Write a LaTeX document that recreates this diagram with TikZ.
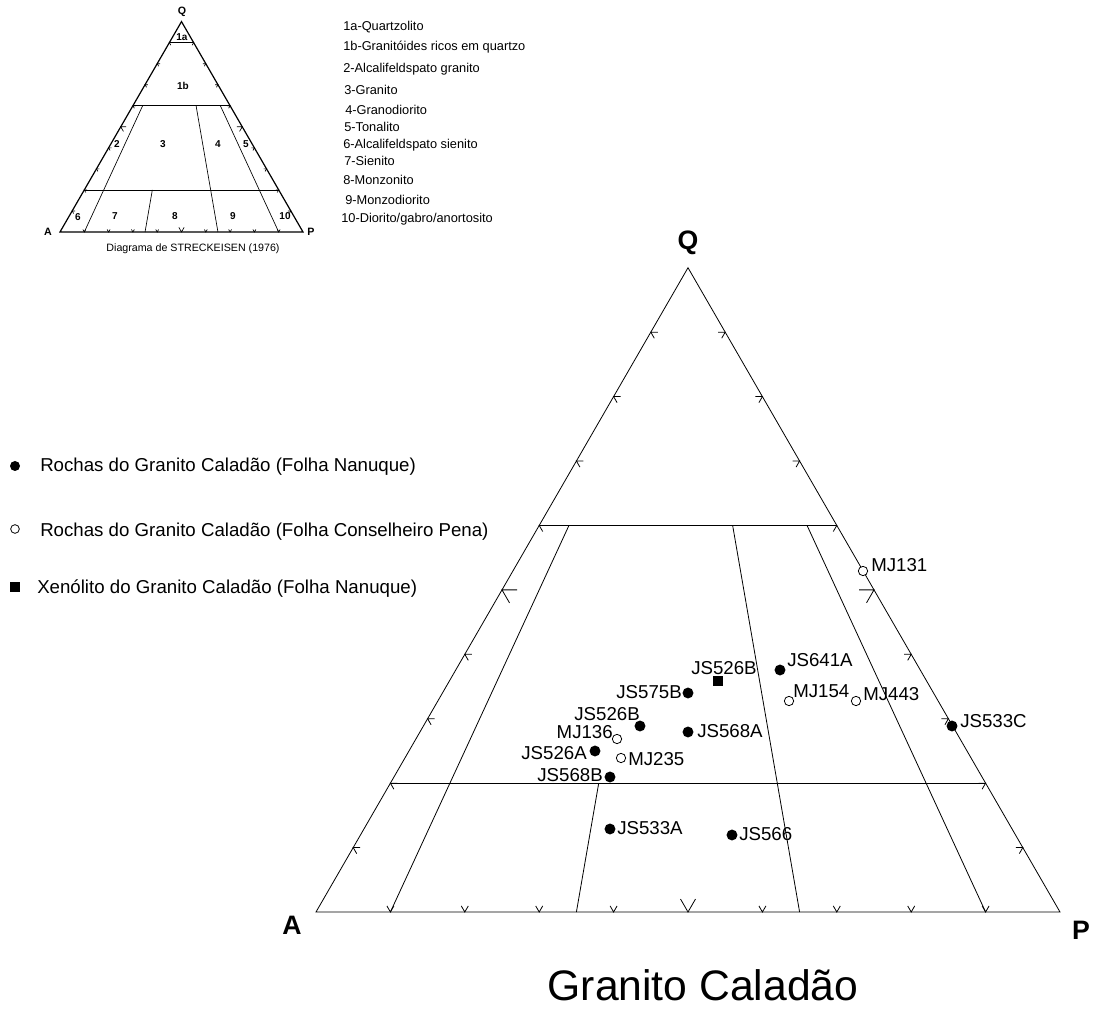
\documentclass[tikz,border=0pt]{standalone}
\usepackage{fontspec}
\setmainfont{Liberation Sans}

\begin{document}
\begin{tikzpicture}[x=0.75pt,y=-0.75pt,
  lbl/.style={font=\fontsize{14}{16}\selectfont},
  leg/.style={font=\fontsize{14}{16}\selectfont,anchor=base west},
  key/.style={font=\fontsize{9.6}{11}\selectfont,anchor=base west},
  zone/.style={font=\fontsize{7.5}{9}\selectfont\bfseries},
  vlbl/.style={font=\fontsize{20}{22}\selectfont\bfseries},
  svlbl/.style={font=\fontsize{8}{9}\selectfont\bfseries},
  fdot/.style={circle,fill=black,minimum size=8.2pt},
  odot/.style={circle,draw=black,fill=white,line width=0.6pt,minimum size=7pt},
  xsq/.style={rectangle,fill=black,minimum size=8pt}]
\tikzstyle{every node}+=[inner sep=0pt]
\useasboundingbox (0,0) rectangle (1093,1012);

% small reference triangle
\begin{scope}[shift={(60,232)},x={(182.25pt,0pt)},y={(91.125pt,157.8pt)},line width=0.5pt]
\draw [black,line width=0.9pt] (0,0) coordinate (sA) -- (1,0) coordinate (sP) -- (0,1) coordinate (sQ) -- cycle;
\draw [black] (0,0.9) -- (0.1,0.9);
\draw [black] (0,0.6) -- (0.4,0.6);
\draw [black] (0,0.2) -- (0.8,0.2);
\draw [black] (0.1,0) -- (0.04,0.6);
\draw [black] (0.35,0) -- (0.28,0.2);
\draw [black] (0.65,0) -- (0.26,0.6);
\draw [black] (0.9,0) -- (0.36,0.6);
\draw [black] (0.1,0) ++(60:2.2pt) -- (0.1,0) -- ++(120:2.2pt);
\draw [black] (0.2,0) ++(60:2.2pt) -- (0.2,0) -- ++(120:2.2pt);
\draw [black] (0.3,0) ++(60:2.2pt) -- (0.3,0) -- ++(120:2.2pt);
\draw [black] (0.4,0) ++(60:2.2pt) -- (0.4,0) -- ++(120:2.2pt);
\draw [black] (0.5,0) ++(60:4pt) -- (0.5,0) -- ++(120:4pt);
\draw [black] (0.6,0) ++(60:2.2pt) -- (0.6,0) -- ++(120:2.2pt);
\draw [black] (0.7,0) ++(60:2.2pt) -- (0.7,0) -- ++(120:2.2pt);
\draw [black] (0.8,0) ++(60:2.2pt) -- (0.8,0) -- ++(120:2.2pt);
\draw [black] (0.9,0) ++(60:2.2pt) -- (0.9,0) -- ++(120:2.2pt);
\draw [black] (0,0.1) ++(0:2.2pt) -- (0,0.1) -- ++(-60:2.2pt);
\draw [black] (0,0.2) ++(0:2.2pt) -- (0,0.2) -- ++(-60:2.2pt);
\draw [black] (0,0.3) ++(0:2.2pt) -- (0,0.3) -- ++(-60:2.2pt);
\draw [black] (0,0.4) ++(0:2.2pt) -- (0,0.4) -- ++(-60:2.2pt);
\draw [black] (0,0.5) ++(0:4pt) -- (0,0.5) -- ++(-60:4pt);
\draw [black] (0,0.6) ++(0:2.2pt) -- (0,0.6) -- ++(-60:2.2pt);
\draw [black] (0,0.7) ++(0:2.2pt) -- (0,0.7) -- ++(-60:2.2pt);
\draw [black] (0,0.8) ++(0:2.2pt) -- (0,0.8) -- ++(-60:2.2pt);
\draw [black] (0,0.9) ++(0:2.2pt) -- (0,0.9) -- ++(-60:2.2pt);
\draw [black] (0.9,0.1) ++(180:2.2pt) -- (0.9,0.1) -- ++(240:2.2pt);
\draw [black] (0.8,0.2) ++(180:2.2pt) -- (0.8,0.2) -- ++(240:2.2pt);
\draw [black] (0.7,0.3) ++(180:2.2pt) -- (0.7,0.3) -- ++(240:2.2pt);
\draw [black] (0.6,0.4) ++(180:2.2pt) -- (0.6,0.4) -- ++(240:2.2pt);
\draw [black] (0.5,0.5) ++(180:4pt) -- (0.5,0.5) -- ++(240:4pt);
\draw [black] (0.4,0.6) ++(180:2.2pt) -- (0.4,0.6) -- ++(240:2.2pt);
\draw [black] (0.3,0.7) ++(180:2.2pt) -- (0.3,0.7) -- ++(240:2.2pt);
\draw [black] (0.2,0.8) ++(180:2.2pt) -- (0.2,0.8) -- ++(240:2.2pt);
\draw [black] (0.1,0.9) ++(180:2.2pt) -- (0.1,0.9) -- ++(240:2.2pt);
\end{scope}
\node [svlbl] (sqlbl) at (182,12) {Q};
\node [svlbl] (salbl) at (48,232) {A};
\node [svlbl] (splbl) at (311,232) {P};
\node [zone] (z1a) at (182,37) {1a};
\node [zone] (z1b) at (183,86) {1b};
\node [zone] (z2) at (117,144) {2};
\node [zone] (z3) at (163,144) {3};
\node [zone] (z4) at (218,144) {4};
\node [zone] (z5) at (246,144) {5};
\node [zone] (z6) at (78,217) {6};
\node [zone] (z7) at (115,216) {7};
\node [zone] (z8) at (175,216) {8};
\node [zone] (z9) at (233,216) {9};
\node [zone] (z10) at (285,216) {10};
\node [font=\fontsize{8}{9}\selectfont] (caption) at (193,249) {Diagrama de STRECKEISEN (1976)};

% list of fields
\node [key] (k1a) at (343,31) {1a-Quartzolito};
\node [key] (k1b) at (343,51) {1b-Granitóides ricos em quartzo};
\node [key] (k2) at (343,73) {2-Alcalifeldspato granito};
\node [key] (k3) at (344,95) {3-Granito};
\node [key] (k4) at (345,115) {4-Granodiorito};
\node [key] (k5) at (344,132) {5-Tonalito};
\node [key] (k6) at (343,149) {6-Alcalifeldspato sienito};
\node [key] (k7) at (344,166) {7-Sienito};
\node [key] (k8) at (343,185) {8-Monzonito};
\node [key] (k9) at (345,205) {9-Monzodiorito};
\node [key] (k10) at (341,223) {10-Diorito/gabro/anortosito};

% legend
\node [fdot,minimum size=7.5pt] (lgfill) at (15,466) {};
\node [leg] (lgfilltxt) at (40,472) {Rochas do Granito Caladão (Folha Nanuque)};
\node [odot,minimum size=6.5pt] (lgopen) at (15,529) {};
\node [leg] (lgopentxt) at (40,537) {Rochas do Granito Caladão (Folha Conselheiro Pena)};
\node [xsq,minimum size=7.5pt] (lgsq) at (15,587) {};
\node [leg] (lgsqtxt) at (37,594) {Xenólito do Granito Caladão (Folha Nanuque)};

% QAP triangle
\begin{scope}[shift={(316,912)},x={(558pt,0pt)},y={(279pt,483.2pt)},line width=0.6pt]
\draw [black] (0,0) coordinate (A) -- (1,0) coordinate (P) -- (0,1) coordinate (Q) -- cycle;
\draw [black] (0,0.6) -- (0.4,0.6);
\draw [black] (0,0.2) -- (0.8,0.2);
\draw [black] (0.1,0) -- (0.04,0.6);
\draw [black] (0.35,0) -- (0.28,0.2);
\draw [black] (0.65,0) -- (0.26,0.6);
\draw [black] (0.9,0) -- (0.36,0.6);
\draw [black] (0.1,0) ++(60:5.25pt) -- (0.1,0) -- ++(120:5.25pt);
\draw [black] (0.2,0) ++(60:5.25pt) -- (0.2,0) -- ++(120:5.25pt);
\draw [black] (0.3,0) ++(60:5.25pt) -- (0.3,0) -- ++(120:5.25pt);
\draw [black] (0.4,0) ++(60:5.25pt) -- (0.4,0) -- ++(120:5.25pt);
\draw [black] (0.5,0) ++(60:11.25pt) -- (0.5,0) -- ++(120:11.25pt);
\draw [black] (0.6,0) ++(60:5.25pt) -- (0.6,0) -- ++(120:5.25pt);
\draw [black] (0.7,0) ++(60:5.25pt) -- (0.7,0) -- ++(120:5.25pt);
\draw [black] (0.8,0) ++(60:5.25pt) -- (0.8,0) -- ++(120:5.25pt);
\draw [black] (0.9,0) ++(60:5.25pt) -- (0.9,0) -- ++(120:5.25pt);
\draw [black] (0,0.1) ++(0:5.25pt) -- (0,0.1) -- ++(-60:5.25pt);
\draw [black] (0,0.2) ++(0:5.25pt) -- (0,0.2) -- ++(-60:5.25pt);
\draw [black] (0,0.3) ++(0:5.25pt) -- (0,0.3) -- ++(-60:5.25pt);
\draw [black] (0,0.4) ++(0:5.25pt) -- (0,0.4) -- ++(-60:5.25pt);
\draw [black] (0,0.5) ++(0:11.25pt) -- (0,0.5) -- ++(-60:11.25pt);
\draw [black] (0,0.6) ++(0:5.25pt) -- (0,0.6) -- ++(-60:5.25pt);
\draw [black] (0,0.7) ++(0:5.25pt) -- (0,0.7) -- ++(-60:5.25pt);
\draw [black] (0,0.8) ++(0:5.25pt) -- (0,0.8) -- ++(-60:5.25pt);
\draw [black] (0,0.9) ++(0:5.25pt) -- (0,0.9) -- ++(-60:5.25pt);
\draw [black] (0.9,0.1) ++(180:5.25pt) -- (0.9,0.1) -- ++(240:5.25pt);
\draw [black] (0.8,0.2) ++(180:5.25pt) -- (0.8,0.2) -- ++(240:5.25pt);
\draw [black] (0.7,0.3) ++(180:5.25pt) -- (0.7,0.3) -- ++(240:5.25pt);
\draw [black] (0.6,0.4) ++(180:5.25pt) -- (0.6,0.4) -- ++(240:5.25pt);
\draw [black] (0.5,0.5) ++(180:11.25pt) -- (0.5,0.5) -- ++(240:11.25pt);
\draw [black] (0.4,0.6) ++(180:5.25pt) -- (0.4,0.6) -- ++(240:5.25pt);
\draw [black] (0.3,0.7) ++(180:5.25pt) -- (0.3,0.7) -- ++(240:5.25pt);
\draw [black] (0.2,0.8) ++(180:5.25pt) -- (0.2,0.8) -- ++(240:5.25pt);
\draw [black] (0.1,0.9) ++(180:5.25pt) -- (0.1,0.9) -- ++(240:5.25pt);
\end{scope}
\node [vlbl] (qlbl) at (688,243) {Q};
\node [vlbl] (albl) at (292,925) {A};
\node [vlbl] (plbl) at (1081,930) {P};

% samples
\node [odot] (mj131) at (863,571) {};
\node [lbl,anchor=west] (mj131t) at (871,565) {MJ131};
\node [fdot] (js641a) at (780,670) {};
\node [lbl,anchor=west] (js641at) at (787,660) {JS641A};
\node [xsq] (js526bx) at (718,681) {};
\node [lbl] (js526bxt) at (724,668) {JS526B};
\node [fdot] (js575b) at (688,693) {};
\node [lbl,anchor=east] (js575bt) at (682,692) {JS575B};
\node [odot] (mj154) at (789,701) {};
\node [lbl,anchor=west] (mj154t) at (793,691) {MJ154};
\node [odot] (mj443) at (856,701) {};
\node [lbl,anchor=west] (mj443t) at (863,694) {MJ443};
\node [fdot] (js526b) at (640,726) {};
\node [lbl,anchor=east] (js526bt) at (640,714) {JS526B};
\node [fdot] (js568a) at (688,732) {};
\node [lbl,anchor=west] (js568at) at (697,731) {JS568A};
\node [fdot] (js533c) at (952,726) {};
\node [lbl,anchor=west] (js533ct) at (960,721) {JS533C};
\node [odot] (mj136) at (617,739) {};
\node [lbl,anchor=east] (mj136t) at (613,732) {MJ136};
\node [fdot] (js526a) at (595,751) {};
\node [lbl,anchor=east] (js526at) at (587,753) {JS526A};
\node [odot] (mj235) at (621,758) {};
\node [lbl,anchor=west] (mj235t) at (628,759) {MJ235};
\node [fdot] (js568b) at (610,777) {};
\node [lbl,anchor=east] (js568bt) at (603,775) {JS568B};
\node [fdot] (js533a) at (610,829) {};
\node [lbl,anchor=west] (js533at) at (617,828) {JS533A};
\node [fdot] (js566) at (732,835) {};
\node [lbl,anchor=west] (js566t) at (739,834) {JS566};

\node [font=\fontsize{32}{36}\selectfont] (title) at (703,985) {Granito Caladão};
\end{tikzpicture}
\end{document}
